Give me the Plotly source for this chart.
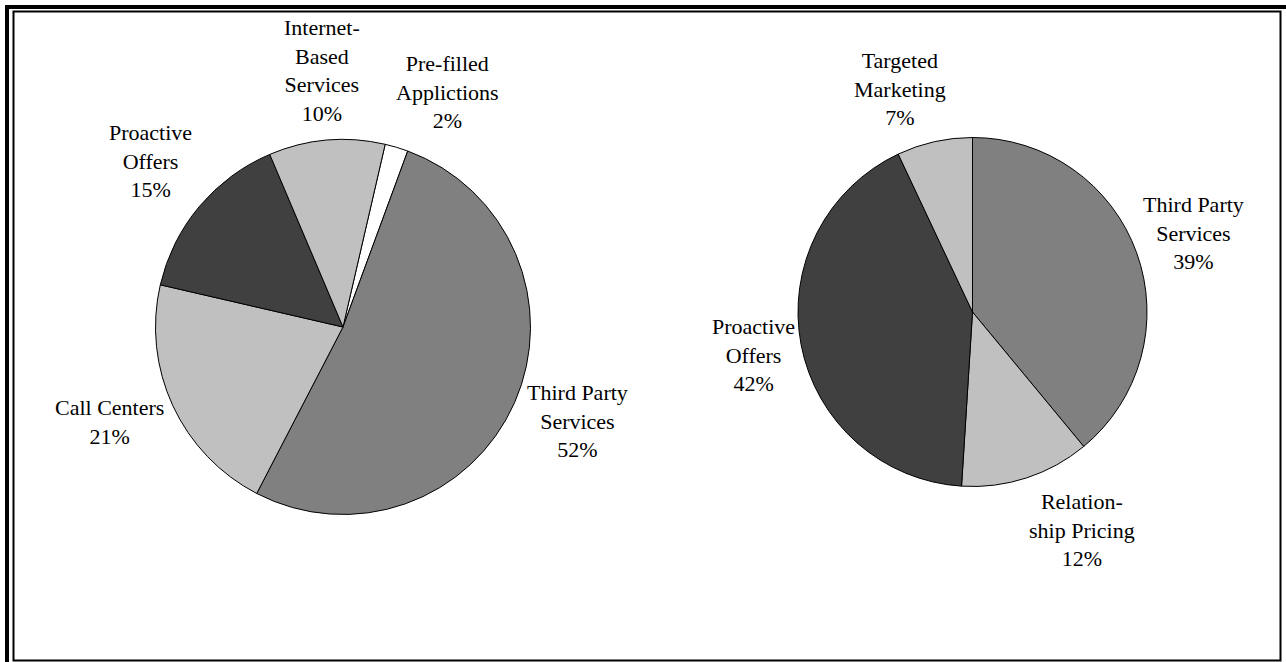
import plotly.graph_objects as go

W, H = 1286, 662

# Left pie: distribution channels (clockwise from the small white wedge)
left_labels = ["Pre-filled\nApplictions", "Third Party\nServices", "Call Centers",
               "Proactive\nOffers", "Internet-\nBased\nServices"]
left_values = [2, 52, 21, 15, 10]
left_colors = ["#FFFFFF", "#808080", "#C0C0C0", "#404040", "#C0C0C0"]

# Right pie
right_labels = ["Third Party\nServices", "Relation-\nship Pricing", "Proactive\nOffers",
                "Targeted\nMarketing"]
right_values = [39, 12, 42, 7]
right_colors = ["#808080", "#C0C0C0", "#404040", "#C0C0C0"]

# label anchor points (pixels from top-left)
left_label_pos = [(447, 92), (577, 421), (110, 422), (150, 161), (322, 71)]
right_label_pos = [(1193, 233), (1082, 530), (753, 355), (900, 89)]

FONT = "Liberation Serif"


def px_domain(cx, cy, r):
    return dict(x=[(cx - r) / W, (cx + r) / W],
                y=[1 - (cy + r) / H, 1 - (cy - r) / H])


fig = go.Figure()
fig.add_trace(go.Pie(
    labels=[l.replace("\n", " ") for l in left_labels], values=left_values,
    sort=False, direction="clockwise", rotation=13,
    marker=dict(colors=left_colors, line=dict(color="#000000", width=1)),
    textinfo="none", hoverinfo="label+percent", showlegend=False,
    domain=px_domain(343, 327, 187.5),
))
fig.add_trace(go.Pie(
    labels=[l.replace("\n", " ") for l in right_labels], values=right_values,
    sort=False, direction="clockwise", rotation=0,
    marker=dict(colors=right_colors, line=dict(color="#000000", width=1)),
    textinfo="none", hoverinfo="label+percent", showlegend=False,
    domain=px_domain(972.5, 312, 174.5),
))

annotations = []
for labels, values, pos in [(left_labels, left_values, left_label_pos),
                            (right_labels, right_values, right_label_pos)]:
    for lab, val, (x, y) in zip(labels, values, pos):
        annotations.append(dict(
            text=lab.replace("\n", "<br>") + f"<br>{val}%",
            x=x / W, y=1 - y / H, xref="paper", yref="paper",
            xanchor="center", yanchor="middle", showarrow=False,
            align="center", font=dict(family=FONT, size=22, color="#000000"),
        ))

# double frame around the chart area
shapes = [
    dict(type="rect", xref="paper", yref="paper",
         x0=7 / W, x1=(W + 20) / W, y0=1 - (H + 20) / H, y1=1 - 7 / H,
         line=dict(color="#000000", width=4)),
    dict(type="rect", xref="paper", yref="paper",
         x0=13.5 / W, x1=1280.5 / W, y0=1 - 660.5 / H, y1=1 - 11.5 / H,
         line=dict(color="#000000", width=2)),
]

fig.update_layout(
    width=W, height=H,
    margin=dict(l=0, r=0, t=0, b=0),
    font=dict(family=FONT),
    paper_bgcolor="#FFFFFF", plot_bgcolor="#FFFFFF",
    annotations=annotations, shapes=shapes,
)

fig.write_html("out.html")
